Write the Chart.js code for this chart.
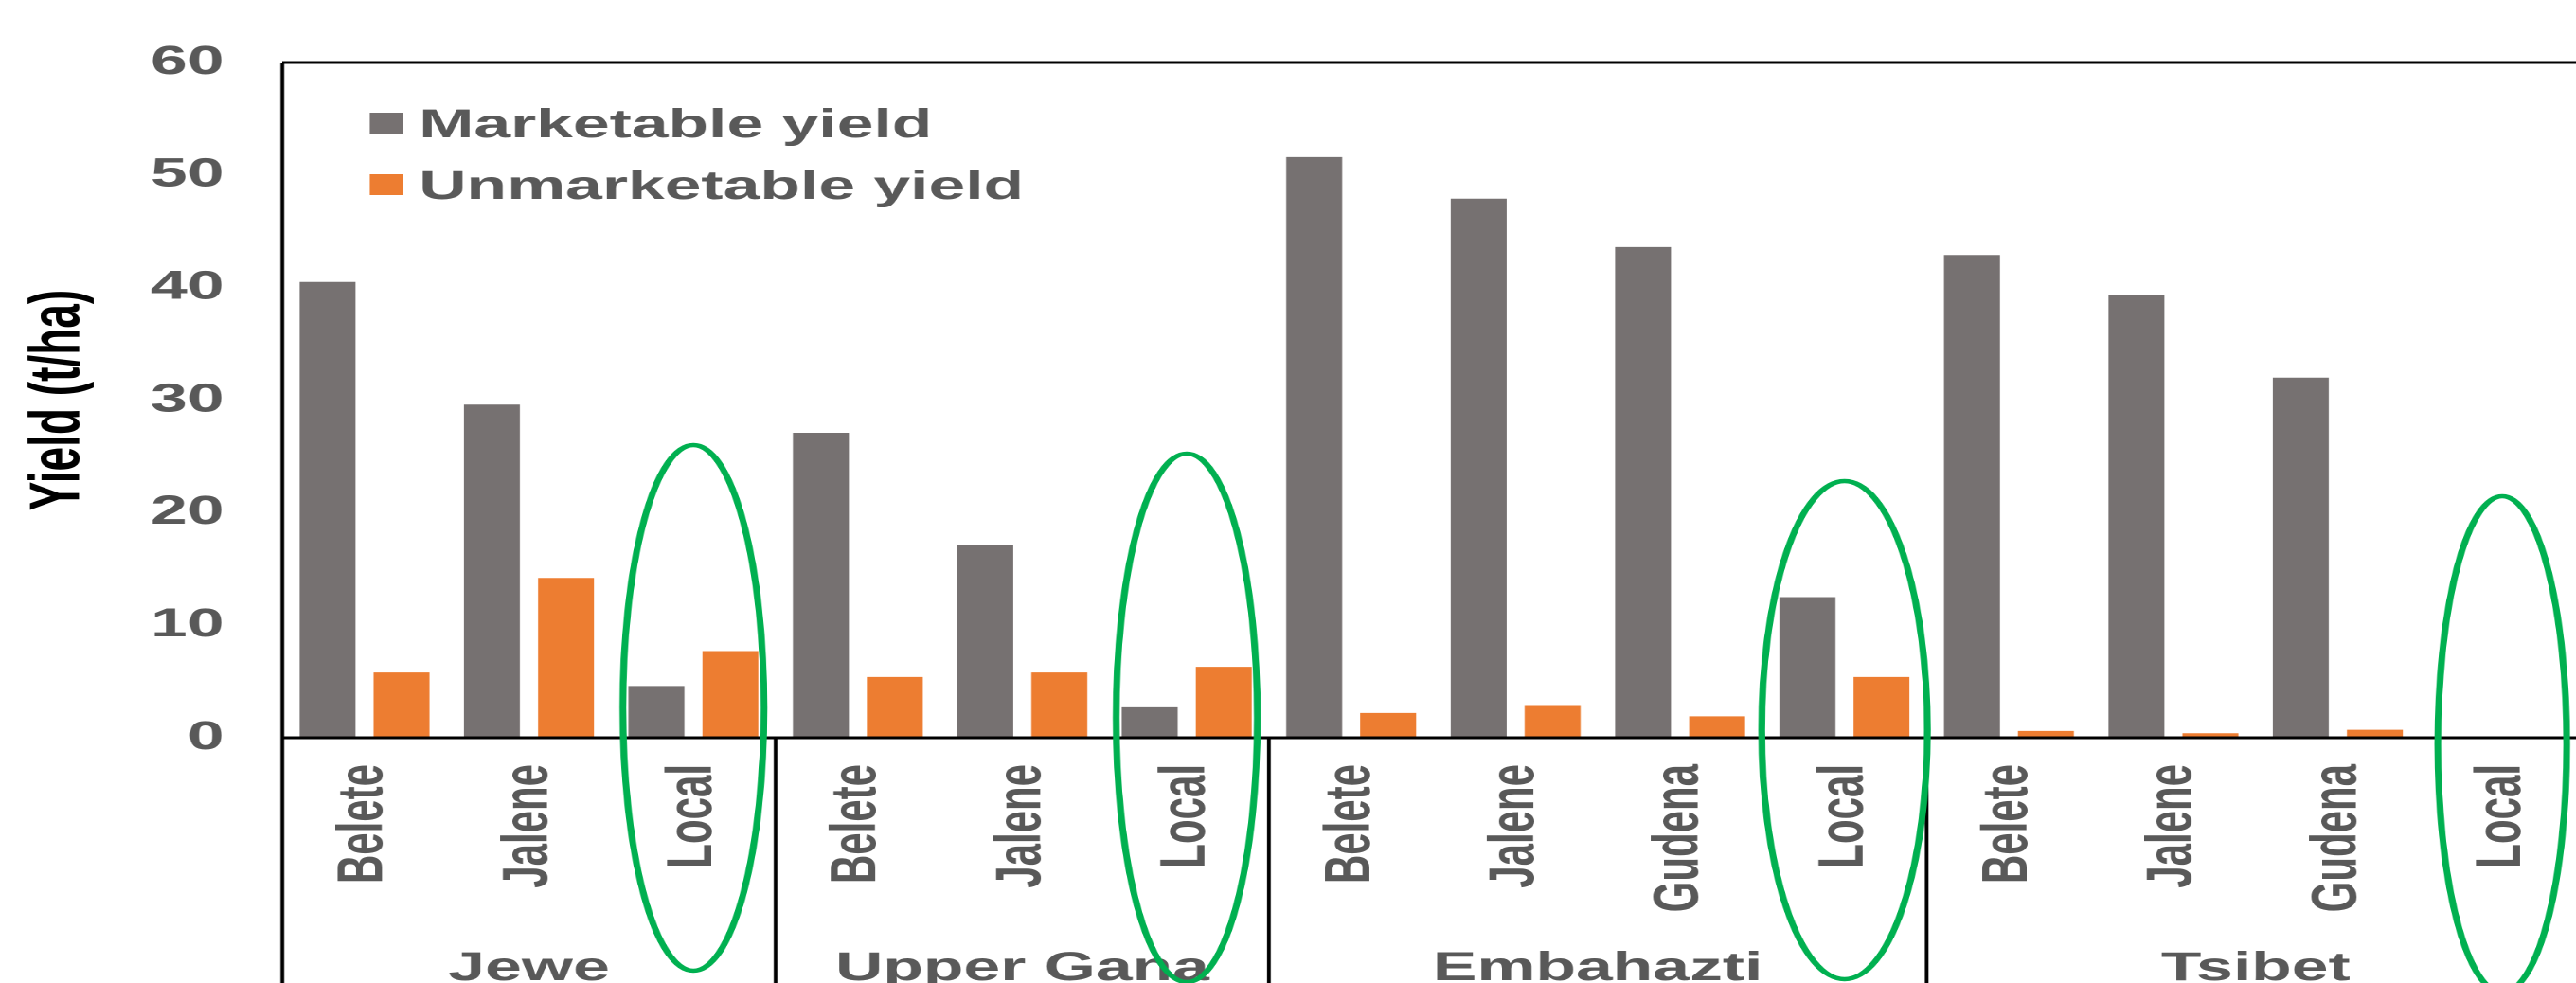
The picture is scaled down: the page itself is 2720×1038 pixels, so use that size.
<!DOCTYPE html>
<html>
<head>
<meta charset="utf-8">
<script src="https://cdn.jsdelivr.net/npm/chart.js@4.4.1/dist/chart.umd.min.js"></script>
<style>
  html, body { margin: 0; padding: 0; background: #fff; overflow: hidden; }
  /* the original figure is stretched sideways, so draw narrow and stretch */
  #wrap { width: 1710px; height: 1038px; transform: scaleX(1.62); transform-origin: 0 0; }
</style>
</head>
<body>
<div id="wrap"><canvas id="chart" width="1710" height="1038"></canvas></div>
<script>
const varieties = ['Belete', 'Jalene', 'Local', 'Belete', 'Jalene', 'Local',
  'Belete', 'Jalene', 'Gudena', 'Local', 'Belete', 'Jalene', 'Gudena', 'Local'];
const sites = ['Jewe', 'Upper Gana', 'Embahazti', 'Tsibet'];
const siteSizes = [3, 3, 4, 4];
const marketable = [40.5, 29.6, 4.6, 27.1, 17.1, 2.7, 51.6, 47.9, 43.6, 12.5, 42.9, 39.3, 32.0, 0];
const unmarketable = [5.8, 14.2, 7.7, 5.4, 5.8, 6.3, 2.2, 2.9, 1.9, 5.4, 0.6, 0.4, 0.7, 0];
const circled = [2, 5, 9, 13];

const FONT = '"Liberation Sans", Arial, sans-serif';
const GREY_TEXT = '#595959';

// green rings round the local varieties (px, before the sideways stretch)
const rings = [
  { rx: 46, top: 470, bottom: 1025 },
  { rx: 46, top: 479, bottom: 1037 },
  { rx: 54, top: 508, bottom: 1034 },
  { rx: 42, top: 524, bottom: 1048 }
];

const decor = {
  id: 'decor',
  afterDraw(chart) {
    const { ctx, chartArea: a, scales: { x, y } } = chart;
    const H = chart.height;
    const zero = y.getPixelForValue(0);
    const line = (x1, y1, x2, y2) => {
      ctx.beginPath(); ctx.moveTo(x1, y1); ctx.lineTo(x2, y2); ctx.stroke();
    };
    ctx.save();
    ctx.strokeStyle = '#000';
    ctx.lineWidth = 3;
    line(a.left, a.top, a.right, a.top);
    line(a.left, zero, a.right, zero);
    ctx.lineWidth = 2.4;
    line(a.left, a.top, a.left, H);
    line(a.right, a.top, a.right, zero);

    // site separators and site names
    ctx.font = 'bold 43px ' + FONT;
    ctx.fillStyle = GREY_TEXT;
    ctx.textAlign = 'center';
    ctx.textBaseline = 'alphabetic';
    let start = 0;
    sites.forEach((s, i) => {
      const end = start + siteSizes[i];
      const bx = x.getPixelForValue(end - 0.5);
      line(bx, zero, bx, H);
      const cx = x.getPixelForValue(start + (siteSizes[i] - 1) / 2);
      ctx.fillText(s, cx, 1035);
      start = end;
    });

    // legend inside the plot
    ctx.font = 'bold 43px ' + FONT;
    ctx.textAlign = 'left';
    chart.data.datasets.forEach((ds, i) => {
      const ty = 145 + i * 65;
      ctx.fillStyle = ds.backgroundColor;
      ctx.fillRect(241, ty - 26, 22, 22);
      ctx.fillStyle = GREY_TEXT;
      ctx.fillText(ds.label, 273, ty);
    });

    // rings
    ctx.strokeStyle = '#00B050';
    ctx.lineWidth = 4.4;
    circled.forEach((idx, i) => {
      const r = rings[i];
      const cx = x.getPixelForValue(idx);
      ctx.beginPath();
      ctx.ellipse(cx, (r.top + r.bottom) / 2, r.rx, (r.bottom - r.top) / 2, 0, 0, Math.PI * 2);
      ctx.stroke();
    });
    ctx.restore();
  }
};

new Chart(document.getElementById('chart'), {
  type: 'bar',
  data: {
    labels: varieties,
    datasets: [
      { label: 'Marketable yield', data: marketable, backgroundColor: '#767171',
        categoryPercentage: 0.9, barPercentage: 0.756 },
      { label: 'Unmarketable yield', data: unmarketable, backgroundColor: '#ED7D31',
        categoryPercentage: 0.9, barPercentage: 0.756 }
    ]
  },
  options: {
    responsive: false,
    animation: false,
    devicePixelRatio: 2,
    layout: { padding: { top: 66, right: 18, left: 0, bottom: 0 } },
    plugins: { legend: { display: false }, tooltip: { enabled: false } },
    scales: {
      x: {
        grid: { display: false, drawTicks: false },
        border: { display: false },
        ticks: {
          autoSkip: false, minRotation: 90, maxRotation: 90, padding: 28,
          color: GREY_TEXT, font: { family: FONT, size: 42, weight: 'bold' }
        },
        afterFit(s) { s.height = 259; }
      },
      y: {
        min: 0, max: 60,
        grid: { display: false, drawTicks: false },
        border: { display: false },
        ticks: {
          stepSize: 10, padding: 38,
          color: GREY_TEXT, font: { family: FONT, size: 43, weight: 'bold' }
        },
        title: {
          display: true, text: 'Yield (t/ha)', color: '#000',
          font: { family: FONT, size: 46, weight: 'bold' },
          padding: { top: 11, bottom: 0 }
        },
        afterFit(s) { s.width = 184; }
      }
    }
  },
  plugins: [decor]
});
</script>
</body>
</html>
